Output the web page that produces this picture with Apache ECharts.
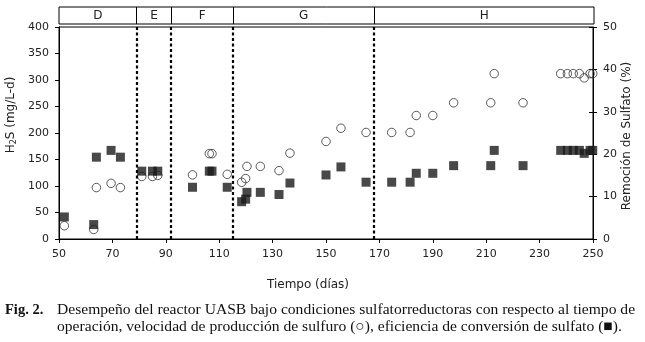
<!DOCTYPE html>
<html><head><meta charset="utf-8">
<script src="https://cdn.jsdelivr.net/npm/echarts@6/dist/echarts.min.js"></script>
<style>html,body{margin:0;padding:0;background:#fff}#c{width:645px;height:342px}</style>
</head><body><div id="c"></div>
<script>
// Days of operation (shared by both series)
const days = [52, 63, 64, 69.5, 73,
  81, 85, 87,
  100, 106.3, 107.3, 113,
  118.4, 119.9, 120.4, 125.4, 132.4, 136.5, 150, 155.6, 165,
  174.6, 181.5, 183.8, 190, 197.8, 211.7, 213, 223.8, 237.9, 240.4, 242.6, 244.9, 246.7, 248.9, 249.9];
// H2S production rate (mg/L-d), open circles, left axis
const h2s = [25, 18, 97, 105, 97,
  118, 118, 120,
  121, 161, 161, 122,
  107, 114, 137, 137, 129, 162, 184, 209, 201,
  201, 201, 233, 233, 257, 257, 312, 257, 312, 312, 312, 312, 304, 312, 312];
// Sulfate removal (%), filled squares, right axis
const sulfate = [5.2, 3.4, 19.3, 20.9, 19.3,
  16.0, 16.0, 16.0,
  12.2, 16.0, 16.0, 12.2,
  8.8, 9.4, 11.0, 11.0, 10.5, 13.2, 15.1, 17.0, 13.4,
  13.4, 13.4, 15.5, 15.5, 17.3, 17.3, 20.9, 17.3, 20.9, 20.9, 20.9, 20.9, 20.2, 20.9, 20.9];
const phaseNames = ['D', 'E', 'F', 'G', 'H'];
const phaseBounds = [50, 79, 92, 115, 168, 250];

const axisFont = {fontFamily: 'DejaVu Sans', fontSize: 11, color: '#222'};
const chart = echarts.init(document.getElementById('c'), null, {renderer: 'canvas'});
chart.setOption({
  animation: false,
  backgroundColor: '#fff',
  grid: [
    {left: 59, right: 52, top: 27, bottom: 103, show: true, borderColor: '#000', borderWidth: 1, backgroundColor: 'transparent'},
    {left: 59, right: 51, top: 7, height: 17, show: true, borderColor: '#000', borderWidth: 1, backgroundColor: 'transparent'}
  ],
  xAxis: [
    {gridIndex: 0, type: 'value', min: 50, max: 250, interval: 20,
      axisLine: {lineStyle: {color: '#000'}}, axisTick: {length: 4, lineStyle: {color: '#000'}},
      axisLabel: Object.assign({margin: 10}, axisFont), splitLine: {show: false}},
    {gridIndex: 1, type: 'value', min: 50, max: 250, show: false}
  ],
  yAxis: [
    {gridIndex: 0, type: 'value', min: 0, max: 400, interval: 50, position: 'left',
      axisLine: {show: true, lineStyle: {color: '#000'}}, axisTick: {show: true, length: 4, lineStyle: {color: '#000'}},
      axisLabel: Object.assign({margin: 10}, axisFont), splitLine: {show: false}},
    {gridIndex: 0, type: 'value', min: 0, max: 50, interval: 10, position: 'right', offset: 0,
      axisLine: {show: true, lineStyle: {color: '#000'}}, axisTick: {show: true, length: 4, lineStyle: {color: '#000'}},
      axisLabel: Object.assign({margin: 10}, axisFont), splitLine: {show: false}},
    {gridIndex: 0, type: 'value', min: 0, max: 50, interval: 10, position: 'right', offset: 0,
      axisLine: {show: false}, axisTick: {show: true, inside: true, length: 4, lineStyle: {color: '#000'}},
      axisLabel: {show: false}, splitLine: {show: false}},
    {gridIndex: 1, type: 'value', min: 0, max: 1, show: false}
  ],
  series: [
    {type: 'scatter', xAxisIndex: 0, yAxisIndex: 0, z: 2,
      data: days.map((d, i) => [d, h2s[i]]),
      symbol: 'circle', symbolSize: 8.5,
      itemStyle: {color: 'rgba(0,0,0,0)', borderColor: '#333', borderWidth: 1},
      emphasis: {disabled: true},
      markLine: {silent: true, symbol: ['none', 'none'], label: {show: false},
        lineStyle: {color: '#000', width: 2.2, type: [3, 2.5]},
        data: phaseBounds.slice(1, -1).map(v => ({xAxis: v}))}},
    {type: 'scatter', xAxisIndex: 0, yAxisIndex: 1, z: 3,
      data: days.map((d, i) => [d, sulfate[i]]),
      symbol: 'rect', symbolSize: 9,
      itemStyle: {color: '#1a1a1a'},
      emphasis: {disabled: true}},
    {type: 'line', xAxisIndex: 1, yAxisIndex: 3, data: [], symbol: 'none',
      markLine: {silent: true, symbol: ['none', 'none'], label: {show: false},
        lineStyle: {color: '#000', width: 1, type: 'solid'},
        data: phaseBounds.slice(1, -1).map(v => ({xAxis: v}))},
      markArea: {silent: true,
        itemStyle: {color: 'rgba(0,0,0,0)', borderWidth: 0},
        label: {show: true, position: 'inside', color: '#222', fontFamily: 'DejaVu Sans', fontSize: 12},
        data: phaseNames.map((n, i) => [{name: n, xAxis: phaseBounds[i], yAxis: 0}, {xAxis: phaseBounds[i + 1], yAxis: 1}])}}
  ],
  graphic: [
    {type: 'text', x: 11, y: 115, rotation: Math.PI / 2,
      style: {text: '{a|H}{b|2}{a|S (mg/L-d)}', align: 'center', verticalAlign: 'middle',
        rich: {a: {fontFamily: 'DejaVu Sans', fontSize: 12, fill: '#222', lineHeight: 14},
               b: {fontFamily: 'DejaVu Sans', fontSize: 8, fill: '#222', verticalAlign: 'bottom', lineHeight: 14}}}},
    {type: 'text', x: 627, y: 136, rotation: Math.PI / 2,
      style: {text: 'Remoción de Sulfato (%)', align: 'center', verticalAlign: 'middle',
        fontFamily: 'DejaVu Sans', fontSize: 12, fill: '#222'}},
    {type: 'text', x: 308, y: 285,
      style: {text: 'Tiempo (días)', align: 'center', verticalAlign: 'middle',
        fontFamily: 'DejaVu Sans', fontSize: 12, fill: '#222'}},
    {type: 'text', x: 5, y: 310,
      style: {text: 'Fig. 2.', align: 'left', verticalAlign: 'middle',
        fontFamily: 'Liberation Serif', fontWeight: 'bold', fontSize: 14.5, fill: '#111'}},
    {type: 'text', x: 57, y: 310,
      style: {text: 'Desempeño del reactor UASB bajo condiciones sulfatorreductoras con respecto al tiempo de', align: 'left', verticalAlign: 'middle',
        fontFamily: 'Liberation Serif', fontSize: 15.6, fill: '#111'}},
    {type: 'text', x: 57, y: 327,
      style: {text: 'operación, velocidad de producción de sulfuro (○), eficiencia de conversión de sulfato (■).', align: 'left', verticalAlign: 'middle',
        fontFamily: 'Liberation Serif', fontSize: 15.6, fill: '#111'}}
  ]
});
</script>
</body></html>
